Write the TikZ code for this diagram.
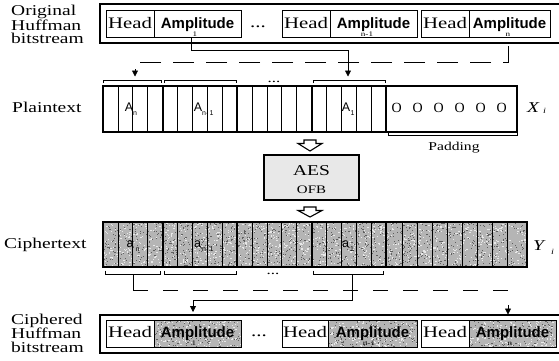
\documentclass[tikz,border=0pt]{standalone}
\usepackage{fontspec}
\setmainfont{Liberation Serif}[FakeStretch=1.3]
\newfontfamily\sansf{Liberation Sans}
\newfontfamily\serifn{Liberation Serif}
\usetikzlibrary{arrows.meta,calc}

\newcommand\noisefill[4]{%
  \fill[gray!58] (#1,#2) rectangle (#3,#4);
  \begin{scope}
    \clip (#1,#2) rectangle (#3,#4);
    \pgfmathtruncatemacro\nzn{(#3-#1)/4*(#4-#2)/4}
    \foreach \k in {1,...,\nzn}{%
      \pgfmathsetmacro\pxx{#1+rnd*(#3-#1)}%
      \pgfmathsetmacro\pyy{#2+rnd*(#4-#2)}%
      \fill[gray!18] (\pxx,\pyy) rectangle ++(1.3,1.1);
      \pgfmathsetmacro\qxx{#1+rnd*(#3-#1)}%
      \pgfmathsetmacro\qyy{#2+rnd*(#4-#2)}%
      \fill[gray!75!black] (\qxx,\qyy) rectangle ++(1.1,1);
    }
  \end{scope}}

\tikzset{
  outerline/.style={line width=1.3pt},
  cellline/.style={line width=0.7pt},
  thickdiv/.style={line width=2.2pt},
  brk/.style={line width=0.6pt},
  conn/.style={line width=0.8pt},
  tipd/.style={-{Triangle[width=6pt,length=6pt]}},
  dashtop/.style={dash pattern=on 21pt off 12pt},
  dashbot/.style={dash pattern=on 15pt off 15pt},
  lbl/.style={anchor=base west, inner sep=0pt, font=\fontsize{15}{15}\selectfont},
  lblblock/.style={anchor=north west, inner sep=0pt, align=left, font=\fontsize{15}{13.6}\selectfont},
  headtxt/.style={anchor=base, inner sep=0pt, font=\fontsize{16}{16}\selectfont},
  amptxt/.style={anchor=base, inner sep=0pt, font=\sansf\bfseries\fontsize{15}{15}\selectfont},
  subtxt/.style={anchor=base, inner sep=0pt, font=\fontsize{7}{7}\selectfont},
  inlbl/.style={anchor=base, inner sep=0pt, font=\sansf\fontsize{12.5}{12.5}\selectfont},
  insub/.style={anchor=base west, inner sep=0pt, font=\sansf\fontsize{7}{7}\selectfont},
  padtxt/.style={anchor=base, inner sep=0pt, font=\serifn\fontsize{14}{14}\selectfont},
  vartxt/.style={anchor=base west, inner sep=0pt, font=\fontsize{15}{15}\selectfont\itshape},
  varsub/.style={anchor=base west, inner sep=0pt, font=\fontsize{8}{8}\selectfont\itshape},
  hollow/.style={draw, fill=white, line width=1.1pt, line join=miter},
  aesbox/.style={draw, fill=gray!18, line width=1.2pt, minimum width=95pt, minimum height=45pt, inner sep=0pt},
}

\begin{document}
\begin{tikzpicture}[x=1pt,y=-1pt]
\pgfmathsetseed{7}
\useasboundingbox (0,0) rectangle (559,360);

% ---------- left labels ----------
\node[lblblock] (orig) at (11,4.6) {Original\\Huffman\\bitstream};
\node[lbl] (plain) at (12,112) {Plaintext};
\node[lbl] (ciph) at (4,248) {Ciphertext};
\node[lblblock] (ciphd) at (11,313.6) {Ciphered\\Huffman\\bitstream};

% ---------- original bitstream ----------
\draw[outerline] (559,4) -- (100,4) -- (100,43) -- (559,43);
\draw[cellline] (106,10) rectangle (241,37) (154,10) -- (154,37);
\draw[cellline] (282,10) rectangle (417,37) (330,10) -- (330,37);
\draw[cellline] (421,10) rectangle (550,37) (469,10) -- (469,37);
\node[headtxt] (h1) at (130,28) {Head};
\node[amptxt] (am1) at (197.5,28) {Amplitude};
\node[subtxt] (st1) at (195,36.5) {1};
\node[headtxt] (dt) at (258,27) {...};
\node[headtxt] (h2) at (306,28) {Head};
\node[amptxt] (am2) at (373.5,28) {Amplitude};
\node[subtxt] (st2) at (367,36.5) {n-1};
\node[headtxt] (h3) at (445,28) {Head};
\node[amptxt] (am3) at (509.5,28) {Amplitude};
\node[subtxt] (st3) at (508,36.5) {n};

% ---------- plaintext row ----------
\foreach \i in {1,...,18} \draw[cellline] ({103+\i*14.9},86) -- ({103+\i*14.9},132);
\foreach \i in {4,9,14,19} \draw[thickdiv] ({103+\i*14.9},86) -- ({103+\i*14.9},132);
\draw[outerline] (103,86) rectangle (517,132);
\node[inlbl] (An) at (129,111) {A};
\node[insub] (Ans) at (133,115) {n};
\node[inlbl] (An1) at (198,111) {A};
\node[insub] (An1s) at (202,115) {n-\,1};
\node[inlbl] (A1) at (346,111) {A};
\node[insub] (A1s) at (350.5,115) {1};
\foreach \k in {0,...,5} \node[padtxt] (pad\k) at ({396.7+21*\k},112) {O};
\node[vartxt] (xi) at (527,112) {X};
\node[varsub] (xis) at (543,113) {i};

% brackets above plaintext
\draw[brk] (103.5,83) -- (103.5,80) -- (161.5,80) -- (161.5,83);
\draw[brk] (164,83) -- (164,80) -- (236.5,80) -- (236.5,83);
\draw[brk] (313,83) -- (313,80) -- (385,80) -- (385,83);
\node[headtxt, font=\fontsize{13}{13}\selectfont] (dp) at (274,82) {...};
% padding bracket
\draw[brk] (388,132.5) -- (388,135.5) -- (517,135.5) -- (517,132.5);
\node[anchor=base, inner sep=0pt, font=\fontsize{12}{12}\selectfont] (padl) at (454,150) {Padding};

% ---------- connectors top ----------
\coordinate (s1) at (191,37.5);
\coordinate (sn) at (508,46);
\coordinate (pA1) at (348,76.5);
\coordinate (pAn) at (135,76.5);
\draw[conn,tipd] (s1) -- ++(0,12.5) -| (pA1);
\draw[conn,dashtop,tipd] (sn) -- ++(0,16) -| (pAn);

% ---------- hollow arrows and AES ----------
\draw[hollow] (304,140) -- (316,140) -- (316,143.5) -- (322,143.5) -- (310,151) -- (298,143.5) -- (304,143.5) -- cycle;
\node[aesbox] (aes) at (311.5,177.5) {};
\node[anchor=base, inner sep=0pt, font=\fontsize{15}{15}\selectfont] (aest) at (311.5,175) {AES};
\node[anchor=base, inner sep=0pt, font=\fontsize{11.5}{11.5}\selectfont] (ofb) at (311.5,193) {OFB};
\draw[hollow] (304,207) -- (316,207) -- (316,210.5) -- (322,210.5) -- (310,217) -- (298,210.5) -- (304,210.5) -- cycle;

% ---------- ciphertext row ----------
\noisefill{103}{222}{527}{267}
\foreach \i in {1,...,18} \draw[cellline] ({103+\i*14.9},222) -- ({103+\i*14.9},267);
\foreach \x in {402,417,432,447,462,477,492,507} \draw[cellline] (\x,222) -- (\x,267);
\foreach \i in {4,9,14,19} \draw[thickdiv] ({103+\i*14.9},222) -- ({103+\i*14.9},267);
\draw[outerline] (103,222) rectangle (527,267);
\node[inlbl] (an) at (130,247) {a};
\node[insub] (ans) at (135.5,251) {n};
\node[inlbl] (an1) at (197.5,247) {a};
\node[insub] (an1s) at (202,251) {n-\,1};
\node[inlbl] (a1) at (345.5,247) {a};
\node[insub] (a1s) at (350,251) {1};
\node[vartxt] (yi) at (533,250) {Y};
\node[varsub] (yis) at (551,254) {i};

% brackets below ciphertext
\draw[brk] (105,270.5) -- (105,274) -- (160,274) -- (160,270.5);
\draw[brk] (164,270.5) -- (164,274) -- (236,274) -- (236,270.5);
\draw[brk] (313,270.5) -- (313,274) -- (383,274) -- (383,270.5);
\node[headtxt, font=\fontsize{13}{13}\selectfont] (dc) at (273,274) {...};

% ---------- ciphered bitstream ----------
\draw[outerline] (559,315) -- (100,315) -- (100,353) -- (559,353);
\noisefill{154}{320}{241}{347}
\noisefill{328}{320}{417}{347}
\noisefill{469}{320}{556}{347}
\draw[cellline] (106,320) rectangle (241,347) (154,320) -- (154,347);
\draw[cellline] (282,320) rectangle (417,347) (328,320) -- (328,347);
\draw[cellline] (421,320) rectangle (556,347) (469,320) -- (469,347);
\node[headtxt] (bh1) at (130,337) {Head};
\node[amptxt] (bam1) at (197.5,337) {Amplitude};
\node[subtxt] (bst1) at (194,345.5) {1};
\node[headtxt] (bdt) at (259,336) {...};
\node[headtxt] (bh2) at (305,337) {Head};
\node[amptxt] (bam2) at (372.5,337) {Amplitude};
\node[subtxt] (bst2) at (369,345.5) {n-1};
\node[headtxt] (bh3) at (445,337) {Head};
\node[amptxt] (bam3) at (512.5,337) {Amplitude};
\node[subtxt] (bst3) at (510,345.5) {n};

% ---------- connectors bottom ----------
\coordinate (cb1) at (133,274.5);
\coordinate (cb1c) at (133,290);
\coordinate (cb4) at (352,274.5);
\coordinate (bAn) at (508,314.5);
\coordinate (bA1) at (193,312);
\draw[conn] (cb1) -- (cb1c);
\draw[conn,dashbot,tipd] (cb1c) -| (bAn);
\draw[conn,tipd] (cb4) -- ++(0,26) -| (bA1);
\end{tikzpicture}
\end{document}
